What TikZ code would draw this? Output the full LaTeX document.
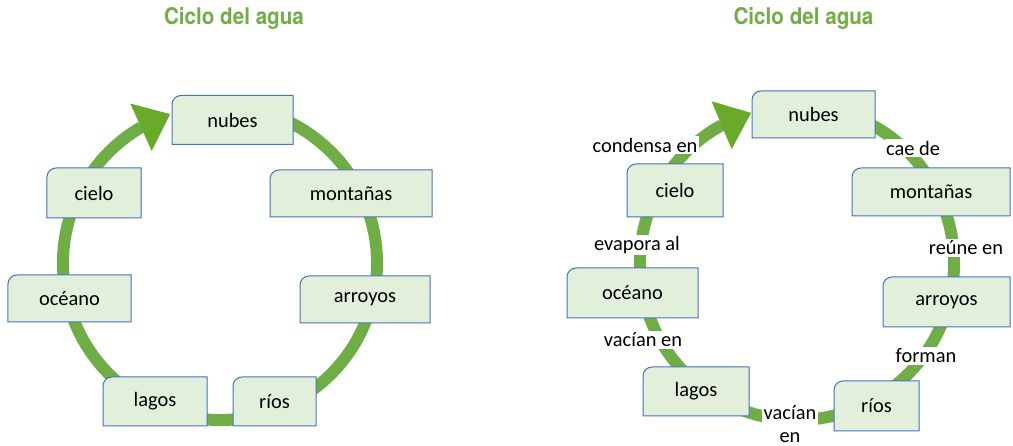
\documentclass[tikz,border=0pt]{standalone}
\usepackage{fontspec}
\setmainfont{Carlito}
\newfontfamily\titlefont{TeX Gyre Heros}
\usepackage{graphicx}
\usetikzlibrary{arrows.meta,bending}
\definecolor{ringgreen}{HTML}{70AD47}
\definecolor{tipgreen}{HTML}{6AAA2A}
\definecolor{boxfill}{HTML}{E2EFDA}
\definecolor{boxline}{HTML}{4472C4}
\pgfdeclarelayer{ringlayer}
\pgfdeclarelayer{boxlayer}
\pgfsetlayers{ringlayer,boxlayer,main}
\tikzset{
  concept/.style={rectangle, inner sep=0pt, outer sep=0pt, font=\fontsize{20.5}{24}\selectfont, text=black},
  lbl/.style={fill=white, inner sep=1.5pt, font=\fontsize{20.5}{23}\selectfont, align=center},
  ring/.style={draw=ringgreen, line width=12bp, -{Triangle[length=32bp,width=52bp,line width=0pt,color=tipgreen,flex]}},
  boxshape/.style={fill=boxfill, draw=boxline, line width=1bp},
  heading/.style={text=ringgreen, inner sep=0pt, font=\titlefont\bfseries\fontsize{23}{27}\selectfont}
}
\newcommand\conceptbox[1]{%
  \begin{pgfonlayer}{boxlayer}
  \path[boxshape] ([yshift=-9bp]#1.north west) arc[start angle=180,end angle=90,radius=9bp] -- (#1.north east) -- (#1.south east) -- (#1.south west) -- cycle;
  \end{pgfonlayer}}
\begin{document}
\begin{tikzpicture}[x=1bp,y=1bp]
\useasboundingbox (0,0) rectangle (1013,446);
% titles
\node[heading] (titleL) at (234,428) {\scalebox{0.9}[1]{Ciclo del agua}};
\node[heading] (titleR) at (803.5,428) {\scalebox{0.9}[1]{Ciclo del agua}};
% ---------------- left diagram
\coordinate (cL) at (220,183);
\begin{pgfonlayer}{ringlayer}
\draw[ring] ([shift={(70:157bp)}]cL) arc[start angle=70, end angle=-251.5, radius=157bp];
\end{pgfonlayer}
\node[concept, minimum width=121bp, minimum height=49bp] (nubesL) at (232.5,326) {nubes};
\node[concept, minimum width=162bp, minimum height=47bp] (montL) at (351,252.5) {montañas};
\node[concept, minimum width=130bp, minimum height=47bp] (arroL) at (365,146.5) {arroyos};
\node[concept, minimum width=83bp, minimum height=49bp] (riosL) at (274.5,44.5) {ríos};
\node[concept, minimum width=104bp, minimum height=49bp] (lagoL) at (155,44.5) {lagos};
\node[concept, minimum width=123bp, minimum height=47bp] (oceaL) at (69.5,147.5) {océano};
\node[concept, minimum width=94bp, minimum height=50bp] (cielL) at (94,253) {cielo};
\foreach \n in {nubesL,montL,arroL,riosL,lagoL,oceaL,cielL}{\conceptbox{\n}}
% ---------------- right diagram
\coordinate (cR) at (797,183);
\begin{pgfonlayer}{ringlayer}
\draw[ring] ([shift={(70:157bp)}]cR) arc[start angle=70, end angle=-253, radius=157bp];
\end{pgfonlayer}
\node[concept, minimum width=123bp, minimum height=47bp] (nubesR) at (813.5,331.5) {nubes};
\node[concept, minimum width=158bp, minimum height=48bp] (montR) at (931,254) {montañas};
\node[concept, minimum width=127bp, minimum height=50bp] (arroR) at (946.5,144) {arroyos};
\node[concept, minimum width=85bp, minimum height=50bp] (riosR) at (876.5,40) {ríos};
\node[concept, minimum width=106bp, minimum height=49bp] (lagoR) at (696,54.5) {lagos};
\node[concept, minimum width=131bp, minimum height=50bp] (oceaR) at (632.5,153) {océano};
\node[concept, minimum width=96bp, minimum height=53bp] (cielR) at (675,255.5) {cielo};
\foreach \n in {nubesR,montR,arroR,riosR,lagoR,oceaR,cielR}{\conceptbox{\n}}
% labels
\node[lbl] (lcond) at (645,301) {condensa en};
\node[lbl] (lcae) at (913,298) {cae de};
\node[lbl] (levap) at (637,201) {evapora al};
\node[lbl] (lreune) at (966,198) {reúne en};
\node[lbl] (lforman) at (926,90) {forman};
\node[lbl] (lvac1) at (643,106) {vacían en};
\node[lbl] (lvac2) at (790,22) {vacían\\en};
\end{tikzpicture}
\end{document}
